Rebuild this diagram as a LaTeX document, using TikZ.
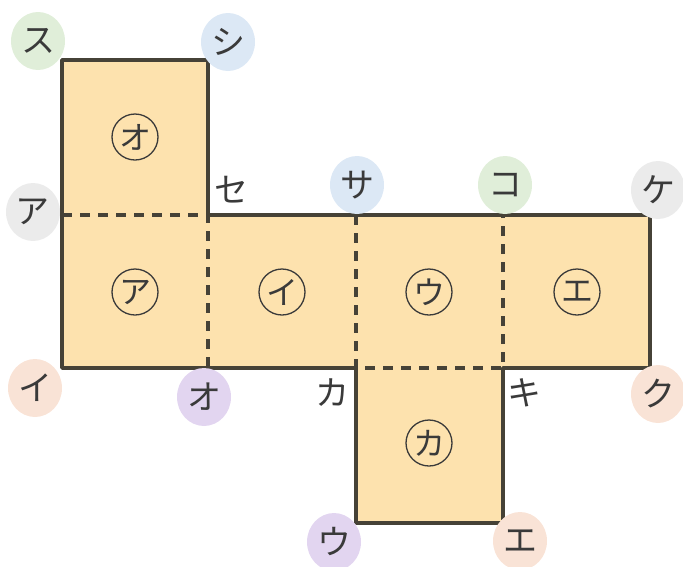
\documentclass[tikz,border=0pt]{standalone}
\usepackage{fontspec}
\newfontfamily\jp{Noto Sans CJK JP}
\usetikzlibrary{shapes.geometric,positioning}
\definecolor{netfill}{RGB}{253,226,174}
\definecolor{netline}{RGB}{70,66,55}
\definecolor{txt}{RGB}{58,58,58}
\definecolor{cgreen}{RGB}{224,238,217}
\definecolor{cblue}{RGB}{220,232,245}
\definecolor{cgray}{RGB}{235,235,235}
\definecolor{cpeach}{RGB}{249,227,214}
\definecolor{cpurple}{RGB}{226,213,240}

\begin{document}
\begin{tikzpicture}[x=1pt,y=-1pt,
	vertex/.style={ellipse,inner sep=0pt,minimum width=54pt,minimum height=58pt,
		font=\jp\fontsize{34}{34}\selectfont,text=txt},
	face/.style={circle,draw=txt,line width=1.3pt,inner sep=0pt,minimum size=46pt,
		font=\jp\fontsize{32}{32}\selectfont,text=txt},
	edge line/.style={draw=netline,line width=3.6pt,line join=round},
	fold/.style={netline,line width=3.6pt,dash pattern=on 10pt off 8pt}]

    \useasboundingbox (0,0) rectangle (683,566);

    % corners of the net
    \coordinate (A) at (62,60);
    \coordinate (B) at (208,60);
    \coordinate (C) at (62,215);
    \coordinate (D) at (208,215);
    \coordinate (E) at (356,215);
    \coordinate (F) at (503,215);
    \coordinate (G) at (650,215);
    \coordinate (H) at (62,368);
    \coordinate (I) at (208,368);
    \coordinate (J) at (356,368);
    \coordinate (K) at (503,368);
    \coordinate (L) at (650,368);
    \coordinate (M) at (356,523);
    \coordinate (N) at (503,523);

    \path[fill=netfill] (A) -- (B) -- (D) -- (G) -- (L) -- (K) -- (N) -- (M) -- (J) -- (H) -- cycle;
    \draw[fold] (C) -- (D) -- (I);
    \draw[fold] (E) -- (J) -- (K) -- (F);
    \path[edge line] (A) -- (B) -- (D) -- (G) -- (L) -- (K) -- (N) -- (M) -- (J) -- (H) -- cycle;

    % faces
    \node[face] (fO) at (135,137) {オ};
    \node[face] (fA) at (135,292) {ア};
    \node[face] (fI) at (282,292) {イ};
    \node[face] (fU) at (429,292) {ウ};
    \node[face] (fE) at (577,292) {エ};
    \node[face] (fK) at (429,443) {カ};

    % vertex labels
    \node[vertex,fill=cgreen] (vSu) at (38,41) {ス};
    \node[vertex,fill=cblue] (vShi) at (228,42) {シ};
    \node[vertex,fill=cgray] (vA) at (33,212) {ア};
    \node[vertex] (vSe) at (231,190) {セ};
    \node[vertex,fill=cblue] (vSa) at (357,185) {サ};
    \node[vertex,fill=cgreen] (vKo) at (505,185) {コ};
    \node[vertex,fill=cgray] (vKe) at (658,190) {ケ};
    \node[vertex,fill=cpeach] (vI) at (35,388) {イ};
    \node[vertex,fill=cpurple] (vO) at (204,397) {オ};
    \node[vertex] (vKa) at (332,393) {カ};
    \node[vertex] (vKi) at (524,393) {キ};
    \node[vertex,fill=cpeach] (vKu) at (658,394) {ク};
    \node[vertex,fill=cpurple] (vU) at (334,542) {ウ};
    \node[vertex,fill=cpeach] (vE) at (520,541) {エ};

\end{tikzpicture}
\end{document}
